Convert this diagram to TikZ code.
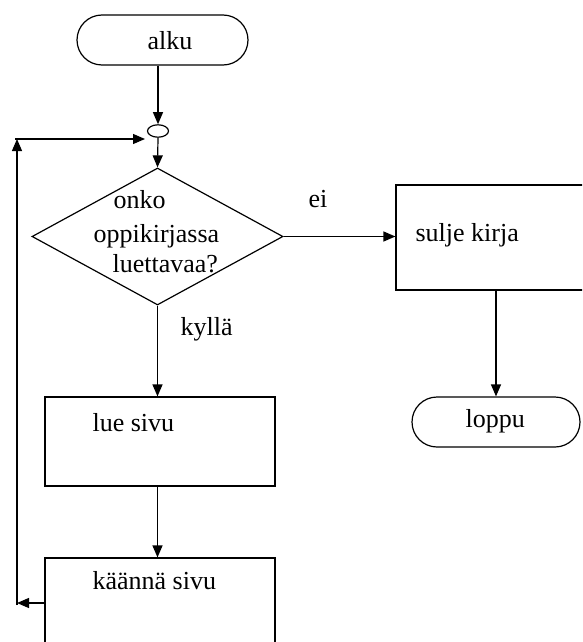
\documentclass[tikz,border=0pt]{standalone}
\usepackage{fontspec}
\setmainfont{Liberation Serif}
\usetikzlibrary{arrows.meta,shapes.geometric}
\begin{document}
\begin{tikzpicture}[x=0.75pt,y=-0.75pt,
  line width=0.9pt,
  every node/.style={font=\fontsize{19.5}{23}\selectfont},
  arr/.style={-{Triangle[length=9pt,width=7.5pt]}},
  term/.style={draw,rounded corners=18.75pt,minimum height=37.5pt,inner sep=0pt},
  boxnode/.style={draw,rectangle,inner sep=0pt},
  lbl/.style={anchor=base west,inner sep=0pt}]
\useasboundingbox (0,0) rectangle (582,642);
\clip (0,0) rectangle (582,642);
% shapes
\node[term,minimum width=128.25pt] (alku) at (162.5,40) {};
\node[draw,ellipse,inner sep=0pt,minimum width=15.75pt,minimum height=9.3pt] (circ) at (158,131) {};
\node[draw,diamond,inner sep=0pt,minimum width=188.25pt,minimum height=102.75pt] (dia) at (157.5,236.5) {};
\node[boxnode,minimum width=160.5pt,minimum height=78.75pt] (sulje) at (503,237.5) {};
\node[term,minimum width=126pt] (loppu) at (496,422) {};
\node[boxnode,minimum width=172.5pt,minimum height=66.75pt] (lue) at (160,441.5) {};
\node[boxnode,minimum width=172.5pt,minimum height=78pt] (kaanna) at (160,610) {};
% texts
\node[lbl] (talku) at (147,50) {alku};
\node[lbl] (t1) at (113,208) {onko};
\node[lbl] (t2) at (93,242) {oppikirjassa};
\node[lbl] (t3) at (112,272) {luettavaa?};
\node[lbl] (tei) at (308,207) {ei};
\node[lbl] (tsulje) at (415,241) {sulje kirja};
\node[lbl] (tkylla) at (180,335) {kyllä};
\node[lbl] (tloppu) at (465,427) {loppu};
\node[lbl] (tlue) at (92,431) {lue sivu};
\node[lbl] (tkaanna) at (92,589) {käännä sivu};
% connectors
\draw[arr] (circ.north |- alku.south) -- (circ.north);
\draw[arr] (circ.south) -- (dia.north);
\draw[arr] (dia.east) -- (sulje.west |- dia.east);
\draw[arr] (loppu.north |- sulje.south) -- (loppu.north);
\draw[arr] (dia.south) -- (dia.south |- lue.north);
\draw[arr] (lue.south -| dia.south) -- (kaanna.north -| dia.south);
\coordinate (lp1) at (17,603);
\coordinate (lp2) at (17,139);
\coordinate (lp3) at (145,139);
\draw[arr] (kaanna.west |- lp1) -- (lp1);
\draw[arr] ([yshift=-1.5pt]lp1) -- (lp2);
\draw[arr] ([xshift=-1.5pt]lp2) -- (lp3);
\end{tikzpicture}
\end{document}
